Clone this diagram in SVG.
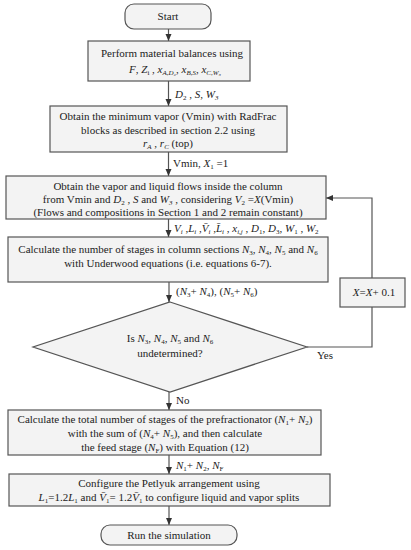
<svg xmlns="http://www.w3.org/2000/svg" width="411" height="550" viewBox="0 0 411 550">
<style>
.box{fill:#f3f3f3;stroke:#555;stroke-width:1.2}
.t{font-family:"Liberation Serif","Times New Roman",serif;font-size:11px;fill:#222;text-anchor:middle}
.l{font-family:"Liberation Serif","Times New Roman",serif;font-size:11px;fill:#222;text-anchor:start}
.i{font-style:italic}
.s{font-size:7px}
.c{fill:none;stroke:#555;stroke-width:1.2}
</style>
<defs>
<marker id="ah" markerWidth="8" markerHeight="8" refX="7" refY="4" orient="auto" markerUnits="userSpaceOnUse">
<path d="M0,1 L7,4 L0,7 Z" fill="#333"/>
</marker>
</defs>
<rect width="411" height="550" fill="#fff"/>
<g id="connectors">
<line class="c" x1="168.5" y1="29" x2="168.5" y2="41" marker-end="url(#ah)"/>
<line class="c" x1="168.5" y1="81" x2="168.5" y2="106" marker-end="url(#ah)"/>
<line class="c" x1="168.5" y1="152" x2="168.5" y2="176" marker-end="url(#ah)"/>
<line class="c" x1="168.5" y1="219" x2="168.5" y2="237" marker-end="url(#ah)"/>
<line class="c" x1="169" y1="282" x2="169" y2="302" marker-end="url(#ah)"/>
<line class="c" x1="169" y1="392" x2="169" y2="410" marker-end="url(#ah)"/>
<line class="c" x1="169" y1="455" x2="169" y2="474" marker-end="url(#ah)"/>
<line class="c" x1="169" y1="506" x2="169" y2="525" marker-end="url(#ah)"/>
<polyline class="c" points="307,347 372,347 372,307"/>
<polyline class="c" points="372,278 372,198 326,198" marker-end="url(#ah)"/>
<text class="l" x="175" y="98"><tspan class="i">D</tspan><tspan class="s" baseline-shift="-2">2</tspan> , <tspan class="i">S</tspan>, <tspan class="i">W</tspan><tspan class="s i" baseline-shift="-2">3</tspan></text>
<text class="l" x="173" y="167">Vmin, <tspan class="i">X</tspan><tspan class="s" baseline-shift="-2">1</tspan> =1</text>
<text class="l" x="174" y="232"><tspan class="i">V</tspan><tspan class="s i" baseline-shift="-2">i</tspan> ,<tspan class="i">L</tspan><tspan class="s i" baseline-shift="-2">i</tspan> ,<tspan class="i">V̄</tspan><tspan class="s i" baseline-shift="-2">i</tspan> ,<tspan class="i">L̄</tspan><tspan class="s i" baseline-shift="-2">i</tspan> , <tspan class="i">x</tspan><tspan class="s i" baseline-shift="-2">i,j</tspan> , <tspan class="i">D</tspan><tspan class="s" baseline-shift="-2">1</tspan>, <tspan class="i">D</tspan><tspan class="s" baseline-shift="-2">3</tspan>, <tspan class="i">W</tspan><tspan class="s" baseline-shift="-2">1</tspan> , <tspan class="i">W</tspan><tspan class="s" baseline-shift="-2">2</tspan></text>
<text class="l" x="176" y="295">(<tspan class="i">N</tspan><tspan class="s" baseline-shift="-2">3</tspan>+ <tspan class="i">N</tspan><tspan class="s" baseline-shift="-2">4</tspan>), (<tspan class="i">N</tspan><tspan class="s" baseline-shift="-2">5</tspan>+ <tspan class="i">N</tspan><tspan class="s" baseline-shift="-2">6</tspan>)</text>
<text class="l" x="317" y="359">Yes</text>
<text class="l" x="176" y="404">No</text>
<text class="l" x="176" y="469"><tspan class="i">N</tspan><tspan class="s" baseline-shift="-2">1</tspan>+ <tspan class="i">N</tspan><tspan class="s" baseline-shift="-2">2</tspan>, <tspan class="i">N</tspan><tspan class="s" baseline-shift="-2">F</tspan></text>
</g>
<g id="start">
<rect class="box" x="125" y="4" width="86" height="25" rx="9"/>
<text class="t" x="168" y="20">Start</text>
</g>
<g id="balances">
<rect class="box" x="88" y="41" width="162" height="40"/>
<text class="t" x="172" y="57">Perform material balances using</text>
<text class="t" x="175" y="73"><tspan class="i">F</tspan>, <tspan class="i">Z</tspan><tspan class="s" baseline-shift="-2">i</tspan> , <tspan class="i">x</tspan><tspan class="s i" baseline-shift="-2">A,D₂</tspan>, <tspan class="i">x</tspan><tspan class="s i" baseline-shift="-2">B,S</tspan>, <tspan class="i">x</tspan><tspan class="s i" baseline-shift="-2">C,W₃</tspan></text>
</g>
<g id="vmin">
<rect class="box" x="50" y="106" width="237" height="46"/>
<text class="t" x="168" y="120">Obtain the minimum vapor (Vmin) with RadFrac</text>
<text class="t" x="168" y="134">blocks as described in section 2.2 using</text>
<text class="t" x="168" y="147"><tspan class="i">r</tspan><tspan class="s i" baseline-shift="-2">A</tspan> , <tspan class="i">r</tspan><tspan class="s i" baseline-shift="-2">C</tspan> (top)</text>
</g>
<g id="flows">
<rect class="box" x="6" y="176" width="320" height="43"/>
<text class="t" x="168" y="190">Obtain the vapor and liquid flows inside the column</text>
<text class="t" x="168" y="203">from Vmin and <tspan class="i">D</tspan><tspan class="s" baseline-shift="-2">2</tspan> , <tspan class="i">S</tspan> and <tspan class="i">W</tspan><tspan class="s i" baseline-shift="-2">3</tspan> , considering <tspan class="i">V</tspan><tspan class="s" baseline-shift="-2">2</tspan> =<tspan class="i">X</tspan>(Vmin)</text>
<text class="t" x="168" y="216">(Flows and compositions in Section 1 and 2 remain constant)</text>
</g>
<g id="stages">
<rect class="box" x="8" y="237" width="320" height="45"/>
<text class="t" x="168" y="253">Calculate the number of stages in column sections <tspan class="i">N</tspan><tspan class="s" baseline-shift="-2">3</tspan>, <tspan class="i">N</tspan><tspan class="s" baseline-shift="-2">4</tspan>, <tspan class="i">N</tspan><tspan class="s" baseline-shift="-2">5</tspan> and <tspan class="i">N</tspan><tspan class="s" baseline-shift="-2">6</tspan></text>
<text class="t" x="168" y="267">with Underwood equations (i.e. equations 6-7).</text>
</g>
<g id="decision">
<polygon class="box" points="170,302 307,347 170,392 33,347"/>
<text class="t" x="170" y="342">Is <tspan class="i">N</tspan><tspan class="s" baseline-shift="-2">3</tspan>, <tspan class="i">N</tspan><tspan class="s" baseline-shift="-2">4</tspan>, <tspan class="i">N</tspan><tspan class="s" baseline-shift="-2">5</tspan> and <tspan class="i">N</tspan><tspan class="s" baseline-shift="-2">6</tspan></text>
<text class="t" x="170" y="357">undetermined?</text>
</g>
<g id="increment">
<rect class="box" x="340" y="278" width="65" height="29"/>
<text class="t" x="374" y="296"><tspan class="i">X</tspan>=<tspan class="i">X</tspan>+ 0.1</text>
</g>
<g id="prefractionator">
<rect class="box" x="8" y="410" width="313" height="45"/>
<text class="t" x="165" y="423">Calculate the total number of stages of the prefractionator (<tspan class="i">N</tspan><tspan class="s" baseline-shift="-2">1</tspan>+ <tspan class="i">N</tspan><tspan class="s" baseline-shift="-2">2</tspan>)</text>
<text class="t" x="165" y="437">with the sum of (<tspan class="i">N</tspan><tspan class="s" baseline-shift="-2">4</tspan>+ <tspan class="i">N</tspan><tspan class="s" baseline-shift="-2">5</tspan>), and then calculate</text>
<text class="t" x="165" y="451">the feed stage (<tspan class="i">N</tspan><tspan class="s" baseline-shift="-2">F</tspan>) with Equation (12)</text>
</g>
<g id="petlyuk">
<rect class="box" x="9" y="474" width="321" height="32"/>
<text class="t" x="169" y="487">Configure the Petlyuk arrangement using</text>
<text class="t" x="169" y="501"><tspan class="i">L</tspan><tspan class="s" baseline-shift="-2">1</tspan>=1.2<tspan class="i">L</tspan><tspan class="s" baseline-shift="-2">1</tspan> and <tspan class="i">V̄</tspan><tspan class="s" baseline-shift="-2">1</tspan>= 1.2<tspan class="i">V̄</tspan><tspan class="s" baseline-shift="-2">1</tspan> to configure liquid and vapor splits</text>
</g>
<g id="end">
<rect class="box" x="101" y="525" width="136" height="20" rx="9"/>
<text class="t" x="169" y="539">Run the simulation</text>
</g>
</svg>
